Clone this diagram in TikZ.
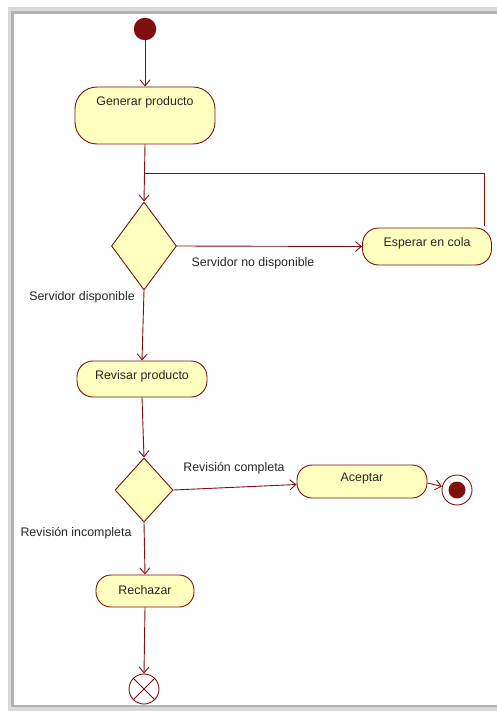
\documentclass[tikz,border=0pt]{standalone}
\usepackage{fontspec}
\setmainfont{Liberation Sans}
\usetikzlibrary{arrows.meta,shapes.geometric,calc}
\definecolor{umlred}{RGB}{128,16,16}
\definecolor{umlfill}{RGB}{255,255,192}
\tikzset{
  x=1pt, y=-1pt,
  every node/.style={font=\fontsize{12.4}{14}\selectfont},
  act/.style={draw=umlred, fill=umlfill, line width=0.9pt, inner sep=0pt},
  dec/.style={diamond, draw=umlred, fill=umlfill, line width=0.9pt, inner sep=0pt},
  flow/.style={draw=umlred, line width=0.9pt, -{Straight Barb[length=6pt,width=10pt]}},
  plain/.style={draw=umlred, line width=0.9pt},
  lbl/.style={inner sep=0pt, text=black!85}
}
\begin{document}
\begin{tikzpicture}
\useasboundingbox (0,0) rectangle (497,711);
% frame
\draw[gray!30, line width=5pt] (10,10) rectangle (530,709);
\draw[gray!60, line width=2.5pt] (12.5,12.5) rectangle (530,706);
% nodes
\node[circle, fill=umlred, minimum size=22.5pt, inner sep=0pt] (init) at (145,29) {};
\node[act, rounded corners=22pt, minimum width=140pt, minimum height=57pt] (gen) at (145,115.5) {};
\node[lbl] (gentxt) at (145,102) {Generar producto};
\node[dec, minimum width=65pt, minimum height=88pt] (d1) at (144,246) {};
\node[act, rounded corners=16pt, minimum width=129pt, minimum height=37pt] (esp) at (427,246.5) {};
\node[lbl] (esptxt) at (427,243) {Esperar en cola};
\node[act, rounded corners=16pt, minimum width=130pt, minimum height=36pt] (rev) at (142,379) {};
\node[lbl] (revtxt) at (142,376) {Revisar producto};
\node[dec, minimum width=58pt, minimum height=64pt] (d2) at (144,490) {};
\node[act, rounded corners=15pt, minimum width=130pt, minimum height=33pt] (acc) at (362,481.5) {};
\node[lbl] (acctxt) at (362,479) {Aceptar};
\node[circle, draw=umlred, fill=white, line width=0.9pt, minimum size=30pt, inner sep=0pt] (fin) at (457,490) {};
\node[circle, fill=umlred, minimum size=17pt, inner sep=0pt] (fininner) at (fin) {};
\node[act, rounded corners=15pt, minimum width=98pt, minimum height=32pt] (rej) at (145,591) {};
\node[lbl] (rejtxt) at (145,590) {Rechazar};
\node[circle, draw=umlred, fill=white, line width=0.9pt, minimum size=30pt, inner sep=0pt] (ff) at (144,689) {};
\draw[plain] (ff.north west) -- (ff.south east);
\draw[plain] (ff.north east) -- (ff.south west);
% labels
\node[lbl] (l1) at (253,263) {Servidor no disponible};
\node[lbl] (l2) at (82,297) {Servidor disponible};
\node[lbl] (l3) at (234,468) {Revisión completa};
\node[lbl] (l4) at (76,533) {Revisión incompleta};
% connectors
\coordinate (join) at (145,173);
\draw[flow] (init.south) -- (gen.north);
\draw[flow] (gen.south) -- (d1.north);
\draw[plain] ([xshift=-8pt,yshift=2pt]esp.north east) |- (join);
\draw[flow] (d1.east) -- (esp.west);
\draw[flow] (d1.south) -- (rev.north);
\draw[flow] (rev.south) -- (d2.north);
\draw[flow] (d2.east) -- ([yshift=-3pt]acc.west);
\draw[flow] ([yshift=-1.5pt]acc.east) -- (fin);
\draw[flow] (d2.south) -- (rej.north);
\draw[flow] (rej.south) -- (ff.north);
\end{tikzpicture}
\end{document}
